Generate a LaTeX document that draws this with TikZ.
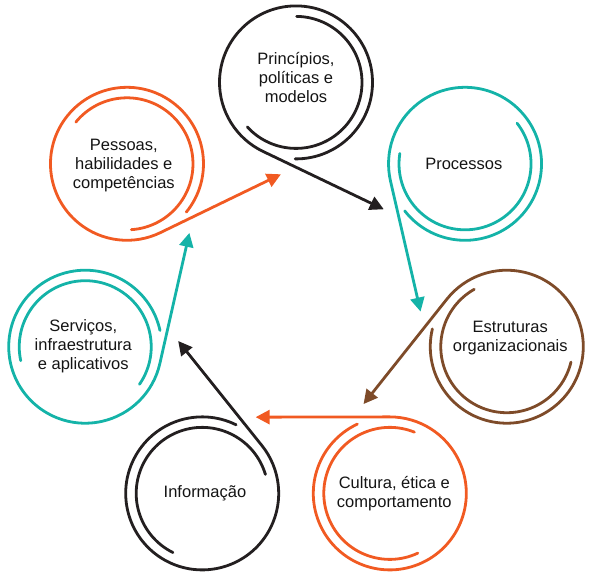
\documentclass[tikz,border=0pt]{standalone}
\usepackage{fontspec}
\setmainfont{Liberation Sans}
\usetikzlibrary{calc,arrows.meta}
\definecolor{cblack}{HTML}{231F20}
\definecolor{cteal}{HTML}{14B3A8}
\definecolor{corange}{HTML}{F15A22}
\definecolor{cbrown}{HTML}{7E4B29}
\begin{document}
\begin{tikzpicture}[x=1pt,y=1pt,
  ringline/.style={line width=2.8pt, line cap=round},
  tipline/.style={-{Triangle[length=14pt,width=14pt]}},
  txt/.style={font=\fontsize{16.5}{19}\selectfont, align=center, text=black!92, inner sep=0pt}]
\useasboundingbox (0,0) rectangle (593,-575);
\coordinate (m) at (296,-298.6);
\foreach \k/\col in {1/cblack,2/cteal,3/cbrown,4/corange,5/cblack,6/cteal,7/corange}{
  \pgfmathsetmacro\pa{90-360/7*(\k-1)}
  \pgfmathsetmacro\ex{244.4-360/7*(\k-1)}
  \coordinate (c\k) at ($(m)+(\pa:216.2)$);
  \coordinate (t\k) at ($(c\k)+(\ex:76.5)+(\ex+90:134)$);
  \draw[ringline,\col] ($(c\k)+(\ex-22:66)$) arc[start angle=\ex-22, end angle=\ex+205, radius=66];
  \draw[ringline,tipline,\col] ($(c\k)+(\ex+25:76.5)$) arc[start angle=\ex+25, end angle=\ex+360, radius=76.5] -- (t\k);
}
\node[txt] (n1) at (296,-77.5) {Princípios,\\políticas e\\modelos};
\node[txt] (n2) at (463.8,-163.5) {Processos};
\node[txt] (n3) at (510.3,-338) {Estruturas\\organizacionais};
\node[txt] (n4) at (394.3,-494) {Cultura, ética e\\comportamento};
\node[txt] (n5) at (205,-493.5) {Informação};
\node[txt] (n6) at (83.3,-346.5) {Serviços,\\infraestrutura\\e aplicativos};
\node[txt] (n7) at (123.8,-166) {Pessoas,\\habilidades e\\competências};
\end{tikzpicture}
\end{document}
